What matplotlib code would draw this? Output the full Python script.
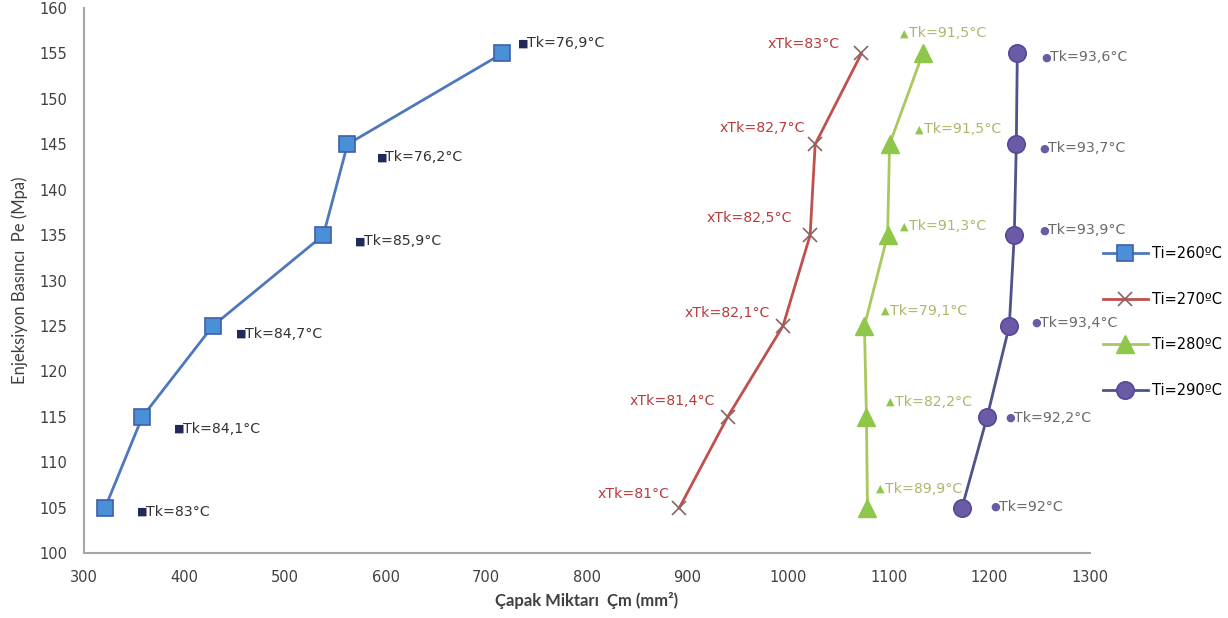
import matplotlib
matplotlib.use("Agg")
import matplotlib.pyplot as plt

plt.rcParams["font.family"] = "DejaVu Sans"

# Injection pressure (MPa) and flash amount (mm2) per melt temperature
pressure = [105, 115, 125, 135, 145, 155]
cm_260 = [321, 358, 428, 538, 562, 716]
cm_270 = [892, 940, 995, 1022, 1027, 1073]
cm_280 = [1079, 1078, 1076, 1099, 1101, 1134]
cm_290 = [1173, 1198, 1220, 1225, 1227, 1228]

# Mould temperature labels
tk_260 = ["83", "84,1", "84,7", "85,9", "76,2", "76,9"]
tk_270 = ["81", "81,4", "82,1", "82,5", "82,7", "83"]
tk_280 = ["89,9", "82,2", "79,1", "91,3", "91,5", "91,5"]
tk_290 = ["92", "92,2", "93,4", "93,9", "93,7", "93,6"]

series_names = ["Ti=260ºC", "Ti=270ºC", "Ti=280ºC", "Ti=290ºC"]

x_ticks = [300, 400, 500, 600, 700, 800, 900, 1000, 1100, 1200, 1300]
y_ticks = [100, 105, 110, 115, 120, 125, 130, 135, 140, 145, 150, 155, 160]

# label offsets in pixels (manually placed labels, as in the original)
off_260 = [(32, -4), (32, -12), (23, -8), (32, -6), (29, -13), (16, 10)]
off_270 = [(-10, 14), (-13, 16), (-13, 13), (-18, 17), (-10, 16), (-22, 9)]
off_280 = [(9, 19), (20, 15), (17, 15), (12, 9), (25, 15), (-23, 20)]
off_290 = [(28, 1), (18, -1), (22, 3), (25, 5), (23, -4), (24, -4)]

fig = plt.figure(figsize=(12.28, 6.18), dpi=100)
ax = fig.add_axes([0.0684, 0.105, 0.819, 0.882])

ax.plot(cm_260, pressure, color="#4f77be", lw=2, marker="s", ms=12,
        mfc="#4a90d9", mec="#3f5fa8", mew=1.2, label=series_names[0], zorder=3)
ax.plot(cm_270, pressure, color="#c0504d", lw=2, marker="x", ms=10,
        mec="#8a6464", mew=1.2, label=series_names[1], zorder=3)
ax.plot(cm_280, pressure, color="#a9c85e", lw=2, marker="^", ms=12.5,
        mfc="#8fc74a", mec="#8fc74a", label=series_names[2], zorder=3)
ax.plot(cm_290, pressure, color="#4e5488", lw=2, marker="o", ms=12.5,
        mfc="#6b5aa6", mec="#574798", mew=1.2, label=series_names[3], zorder=3)


def add_labels(xs, tks, offs, glyph, glyph_color, text_color):
    for x, y, tk, (dx, dy) in zip(xs, pressure, tks, offs):
        ax.annotate(glyph, (x, y), xytext=(dx, dy), textcoords="offset pixels",
                    fontsize=8, color=glyph_color, ha="left", va="center")
        ax.annotate(f"Tk={tk}°C", (x, y), xytext=(dx + 9, dy),
                    textcoords="offset pixels", fontsize=10.2,
                    color=text_color, ha="left", va="center")


add_labels(cm_260, tk_260, off_260, "■", "#1f2a5a", "#333333")
add_labels(cm_280, tk_280, off_280, "▲", "#8fc74a", "#b4b56c")
add_labels(cm_290, tk_290, off_290, "●", "#6b5aa6", "#6a6a6a")

# red labels sit to the left of the points
for x, y, tk, (dx, dy) in zip(cm_270, pressure, tk_270, off_270):
    ax.annotate(f"xTk={tk}°C", (x, y), xytext=(dx, dy), textcoords="offset pixels",
                fontsize=10.2, color="#b83c3c", ha="right", va="center")

ax.set_xlim(300, 1300)
ax.set_ylim(100, 160)
ax.set_xticks(x_ticks)
ax.set_yticks(y_ticks)
ax.tick_params(length=0, labelsize=10.5, labelcolor="#404040", pad=12)

for s in ["top", "right"]:
    ax.spines[s].set_visible(False)
for s in ["left", "bottom"]:
    ax.spines[s].set_color("#a6a6a6")
    ax.spines[s].set_linewidth(1.5)

ax.set_xlabel("Çapak Miktarı  Çm (mm²)", fontsize=12, fontfamily="Lato",
              fontweight="bold", color="#404040", labelpad=5)
ax.set_ylabel("Enjeksiyon Basıncı  Pe (Mpa)", fontsize=12, fontfamily="Lato",
              color="#404040", labelpad=8)

fig.legend(loc="center left", bbox_to_anchor=(1097 / 1228, 1 - 322 / 618),
           frameon=False, fontsize=10.5, handlelength=3.1, handletextpad=0.3,
           labelspacing=2.1, borderaxespad=0)

fig.savefig("out.png", dpi=100)
